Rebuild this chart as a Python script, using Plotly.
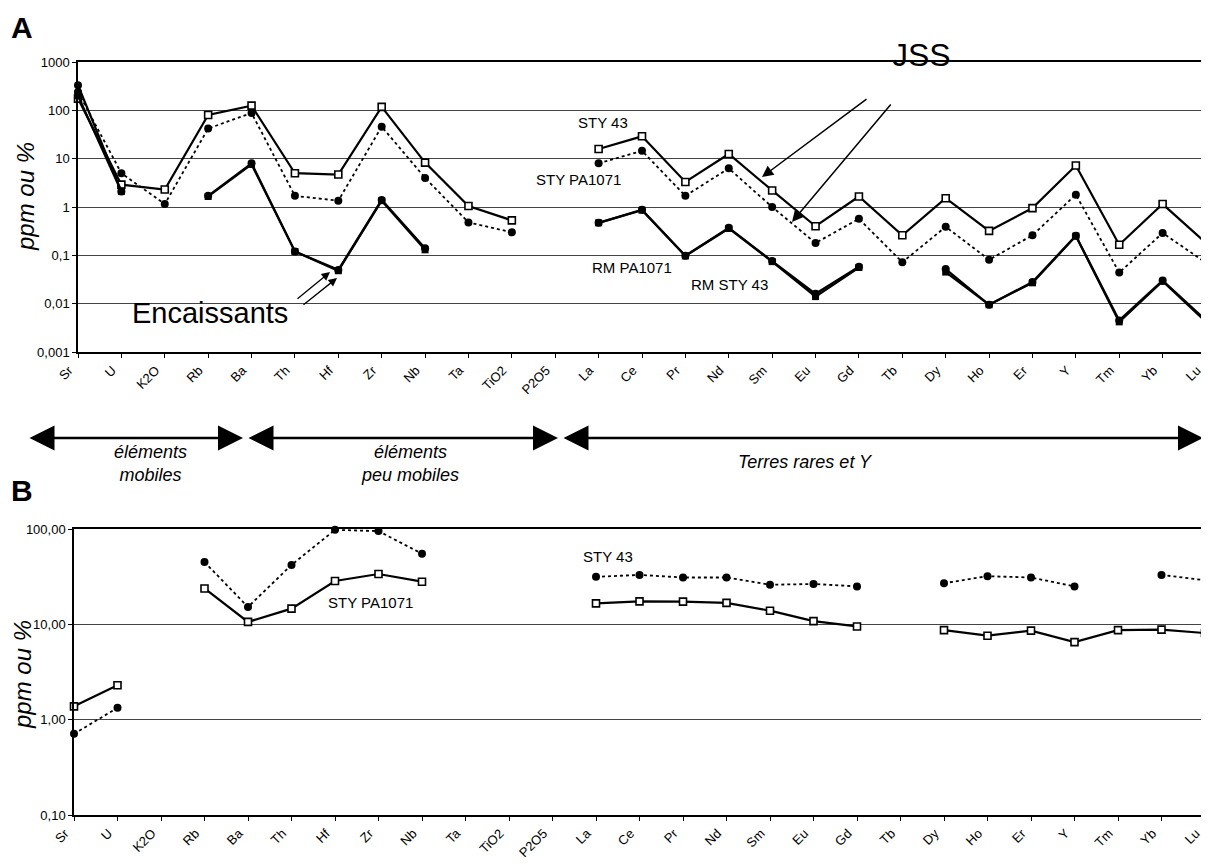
import plotly.graph_objects as go

W, H = 1209, 867
OFF = 8  # page body margin

categories = ["Sr", "U", "K2O", "Rb", "Ba", "Th", "Hf", "Zr", "Nb", "Ta", "TiO2", "P2O5",
              "La", "Ce", "Pr", "Nd", "Sm", "Eu", "Gd", "Tb", "Dy", "Ho", "Er", "Y", "Tm", "Yb", "Lu"]

# Panel A
a_sty43 = [175, 2.9, 2.3, 80, 125, 5.0, 4.7, 118, 8.3, 1.05, 0.53, None,
           15.8, 29, 3.3, 12.5, 2.2, 0.40, 1.65, 0.26, 1.52, 0.32, 0.95, 7.2, 0.165, 1.15, 0.18]
a_stypa1071 = [240, 5.0, 1.15, 42, 88, 1.7, 1.35, 46, 4.0, 0.48, 0.30, None,
               8.0, 14.5, 1.7, 6.3, 1.0, 0.18, 0.57, 0.072, 0.39, 0.081, 0.26, 1.8, 0.044, 0.29, 0.07]
a_rm_pa1071 = [330, 2.1, None, 1.7, 8.0, 0.12, 0.05, 1.4, 0.14, None, None, None,
               0.47, 0.88, 0.098, 0.37, 0.076, 0.016, 0.058, None, 0.052, 0.0095, 0.028, 0.255, 0.0045, 0.03, 0.0045]
a_rm_sty43 = [200, 2.1, None, 1.65, 7.6, 0.12, 0.048, 1.35, 0.13, None, None, None,
              0.47, 0.86, 0.097, 0.36, 0.074, 0.014, 0.056, None, 0.045, 0.0095, 0.027, 0.25, 0.0042, 0.029, 0.0042]

# Panel B
b_sty43 = [0.71, 1.33, None, 45, 15.2, 42, 98, 95, 55, None, None, None,
           31.5, 33, 31, 31, 26, 26.5, 25, None, 27, 32, 31, 25, None, 33, 29]
b_stypa1071 = [1.38, 2.3, None, 23.8, 10.6, 14.6, 28.5, 33.7, 28, None, None, None,
               16.6, 17.4, 17.3, 16.8, 13.9, 10.8, 9.5, None, 8.7, 7.6, 8.6, 6.5, 8.7, 8.8, 8.1]

a_tickvals = [0.001, 0.01, 0.1, 1, 10, 100, 1000]
a_ticktext = ["0,001", "0,01", "0,1", "1", "10", "100", "1000"]
b_tickvals = [0.1, 1, 10, 100]
b_ticktext = ["0,10", "1,00", "10,00", "100,00"]

FONT = "Liberation Sans, Arial, sans-serif"
xs = list(range(len(categories)))


def px(x):
    return (x - OFF) / W


def py(y):
    return 1 - (y - OFF) / H


fig = go.Figure()

sq = dict(symbol="square", size=7, color="white", line=dict(color="black", width=1.6))
ci = dict(symbol="circle", size=8, color="black")
fsq = dict(symbol="square", size=7, color="black")

fig.add_trace(go.Scatter(x=xs, y=a_sty43, mode="lines+markers", name="STY 43",
                         line=dict(color="black", width=2.2), marker=sq,
                         xaxis="x", yaxis="y", cliponaxis=False))
fig.add_trace(go.Scatter(x=xs, y=a_stypa1071, mode="lines+markers", name="STY PA1071",
                         line=dict(color="black", width=1.8, dash="dot"), marker=ci,
                         xaxis="x", yaxis="y", cliponaxis=False))
fig.add_trace(go.Scatter(x=xs, y=a_rm_sty43, mode="lines+markers", name="RM STY 43",
                         line=dict(color="black", width=2.2), marker=fsq,
                         xaxis="x", yaxis="y", cliponaxis=False))
fig.add_trace(go.Scatter(x=xs, y=a_rm_pa1071, mode="lines+markers", name="RM PA1071",
                         line=dict(color="black", width=2.2), marker=ci,
                         xaxis="x", yaxis="y", cliponaxis=False))

fig.add_trace(go.Scatter(x=xs, y=b_stypa1071, mode="lines+markers", name="B STY PA1071",
                         line=dict(color="black", width=2.2), marker=sq,
                         xaxis="x2", yaxis="y2", cliponaxis=False))
fig.add_trace(go.Scatter(x=xs, y=b_sty43, mode="lines+markers", name="B STY 43",
                         line=dict(color="black", width=1.8, dash="dot"), marker=ci,
                         xaxis="x2", yaxis="y2", cliponaxis=False))

axis_common = dict(showline=True, linecolor="black", linewidth=1.5, automargin=False,
                   ticks="outside", ticklen=4, tickcolor="black",
                   tickfont=dict(family=FONT, size=13, color="black"), zeroline=False)

fig.update_layout(
    width=W, height=H, margin=dict(l=0, r=0, t=0, b=0, autoexpand=False),
    paper_bgcolor="white", plot_bgcolor="white", showlegend=False,
    xaxis=dict(domain=[px(78), px(1206)], anchor="y", range=[0, 26],
               tickvals=xs, ticktext=categories, tickangle=-45, mirror=True,
               ticklabelshift=-9, showgrid=False, **axis_common),
    yaxis=dict(domain=[py(352), py(62)], anchor="x", type="log", range=[-3, 3],
               tickvals=a_tickvals, ticktext=a_ticktext, showgrid=True,
               gridcolor="#444444", gridwidth=1, **axis_common),
    xaxis2=dict(domain=[px(74), px(1205)], anchor="y2", range=[0, 26],
                tickvals=xs, ticktext=categories, tickangle=-45, mirror=True,
                ticklabelshift=-9, showgrid=False, **axis_common),
    yaxis2=dict(domain=[py(815), py(529)], anchor="x2", type="log", range=[-1, 2],
                tickvals=b_tickvals, ticktext=b_ticktext, showgrid=True, mirror=True,
                gridcolor="#444444", gridwidth=1, **axis_common),
)

ann = []


def text(x, y, s, size, italic=False, bold=False, angle=0):
    ann.append(dict(x=px(x), y=py(y), xref="paper", yref="paper", text=s, showarrow=False,
                    xanchor="center", yanchor="middle", textangle=angle,
                    font=dict(family=FONT, size=size, color="black",
                              style="italic" if italic else "normal",
                              weight="bold" if bold else "normal")))


def arrow(x0, y0, x1, y1, width, size, both=False, head=2):
    d = dict(x=px(x1), y=py(y1), xref="paper", yref="paper", text="", showarrow=True,
             ax=x0 - x1, ay=y0 - y1, axref="pixel", ayref="pixel",
             arrowhead=head, arrowsize=size, arrowwidth=width, arrowcolor="black")
    if both:
        d.update(arrowside="end+start", startarrowhead=head, startarrowsize=size)
    ann.append(d)


text(22, 27, "A", 30, bold=True)
text(22, 490, "B", 30, bold=True)
text(25, 197, "ppm ou %", 24, italic=True, angle=-90)
text(22, 675, "ppm ou %", 24, italic=True, angle=-90)

text(603, 123, "STY 43", 15)
text(578, 179, "STY PA1071", 15)
text(632, 267, "RM PA1071", 15)
text(729, 284, "RM STY 43", 15)
text(921, 55, "JSS", 32)
text(210, 313, "Encaissants", 29)

text(608, 556, "STY 43", 15)
text(370, 602, "STY PA1071", 15)

text(150, 464, "éléments<br>mobiles", 18, italic=True)
text(410, 464, "éléments<br>peu mobiles", 18, italic=True)
text(805, 462, "Terres rares et Y", 18, italic=True)

arrow(868, 98, 762, 177, 1.5, 1.5)
arrow(892, 103, 792, 222, 1.5, 1.5)
arrow(296, 300, 330, 272, 1.3, 1.3)
arrow(302, 306, 337, 278, 1.3, 1.3)

arrow(28, 438, 243, 438, 2.5, 2.0, both=True)
arrow(247, 438, 558, 438, 2.5, 2.0, both=True)
arrow(562, 438, 1203, 438, 2.5, 2.0, both=True)

fig.update_layout(annotations=ann)

fig.write_html("out.html")
